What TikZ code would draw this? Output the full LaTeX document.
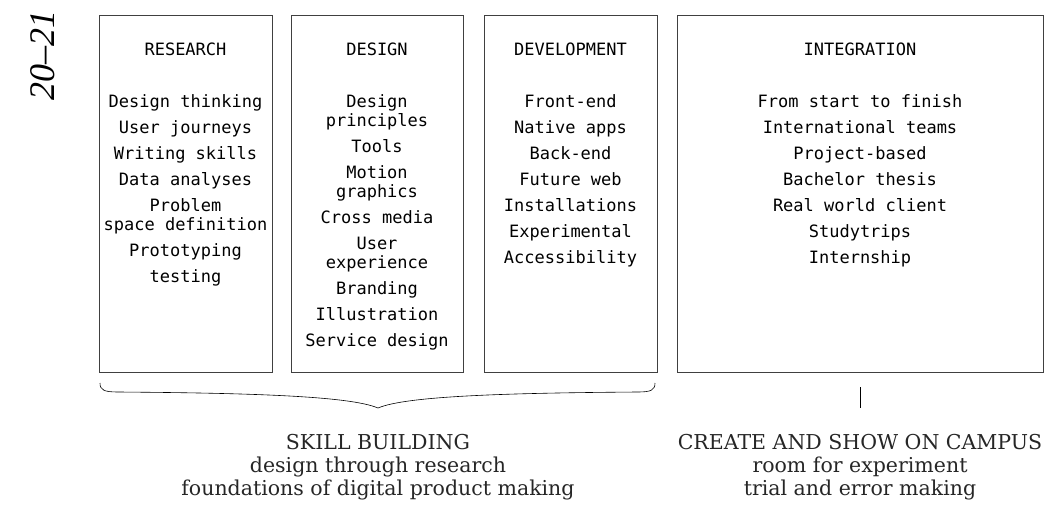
\documentclass[tikz,border=0pt]{standalone}
\usepackage{fontspec}
\setmainfont{DejaVu Serif}
\setmonofont{DejaVu Sans Mono}
\newfontfamily\yearfont{Liberation Serif}
\usepackage{tikz}
\usetikzlibrary{positioning}

\tikzset{
  column/.style={draw=black!75, line width=0.8pt, inner sep=0pt},
  heading/.style={font=\ttfamily\fontsize{17}{19}\selectfont, inner sep=0pt},
  items/.style={font=\ttfamily\fontsize{17}{19}\selectfont, align=center, inner sep=0pt, anchor=north},
  caption/.style={font=\fontsize{20.5}{23}\selectfont, align=center, inner sep=0pt, anchor=north, text=black!85}
}

\begin{document}
\begin{tikzpicture}[x=1pt, y=-1pt]
    \useasboundingbox (0,0) rectangle (1055,511);

    % Year
    \node[rotate=90, font=\yearfont\itshape\fontsize{36}{36}\selectfont, inner sep=0pt] (year) at (43,55) {20–21};

    % Columns
    \node[column, minimum width=173, minimum height=357] (research) at (185.5,193.5) {};
    \node[column, minimum width=172, minimum height=357] (design) at (377,193.5) {};
    \node[column, minimum width=173, minimum height=357] (development) at (570.5,193.5) {};
    \node[column, minimum width=366, minimum height=357] (integration) at (860,193.5) {};

    % Headings
    \node[heading] (researchtitle) at (185.5,49) {RESEARCH};
    \node[heading] (designtitle) at (377,49) {DESIGN};
    \node[heading] (developmenttitle) at (570.5,49) {DEVELOPMENT};
    \node[heading] (integrationtitle) at (860,49) {INTEGRATION};

    % Lists
    \node[items] (researchlist) at (185.5,94) {Design thinking\\[7pt] User journeys\\[7pt] Writing skills\\[7pt] Data analyses\\[7pt] Problem\\ space definition\\[7pt] Prototyping\\[7pt] testing};
    \node[items] (designlist) at (377,94) {Design\\ principles\\[7pt] Tools\\[7pt] Motion\\ graphics\\[7pt] Cross media\\[7pt] User\\ experience\\[7pt] Branding\\[7pt] Illustration\\[7pt] Service design};
    \node[items] (developmentlist) at (570.5,94) {Front-end\\[7pt] Native apps\\[7pt] Back-end\\[7pt] Future web\\[7pt] Installations\\[7pt] Experimental\\[7pt] Accessibility};
    \node[items] (integrationlist) at (860,94) {From start to finish\\[7pt] International teams\\[7pt] Project-based\\[7pt] Bachelor thesis\\[7pt] Real world client\\[7pt] Studytrips\\[7pt] Internship};

    % Brace and tick
    \coordinate (bracestart) at (100,383);
    \coordinate (bracetip) at (378,408);
    \coordinate (braceend) at (655,383);
    \draw[line width=0.6pt] (bracestart) .. controls (100,390) and (104,392) .. (118,392)
        .. controls (250,393) and (350,396) .. (bracetip)
        .. controls (406,396) and (506,393) .. (638,392)
        .. controls (651,392) and (655,390) .. (braceend);
    \coordinate (tick) at (860,387);
    \coordinate (tickend) at (860,408);
    \draw[line width=0.6pt] (tick) -- (tickend);

    % Captions
    \node[caption] (skill) at (378,434) {SKILL BUILDING\\ design through research\\ foundations of digital product making};
    \node[caption] (campus) at (860,434) {CREATE AND SHOW ON CAMPUS\\ room for experiment\\ trial and error making};
\end{tikzpicture}
\end{document}
